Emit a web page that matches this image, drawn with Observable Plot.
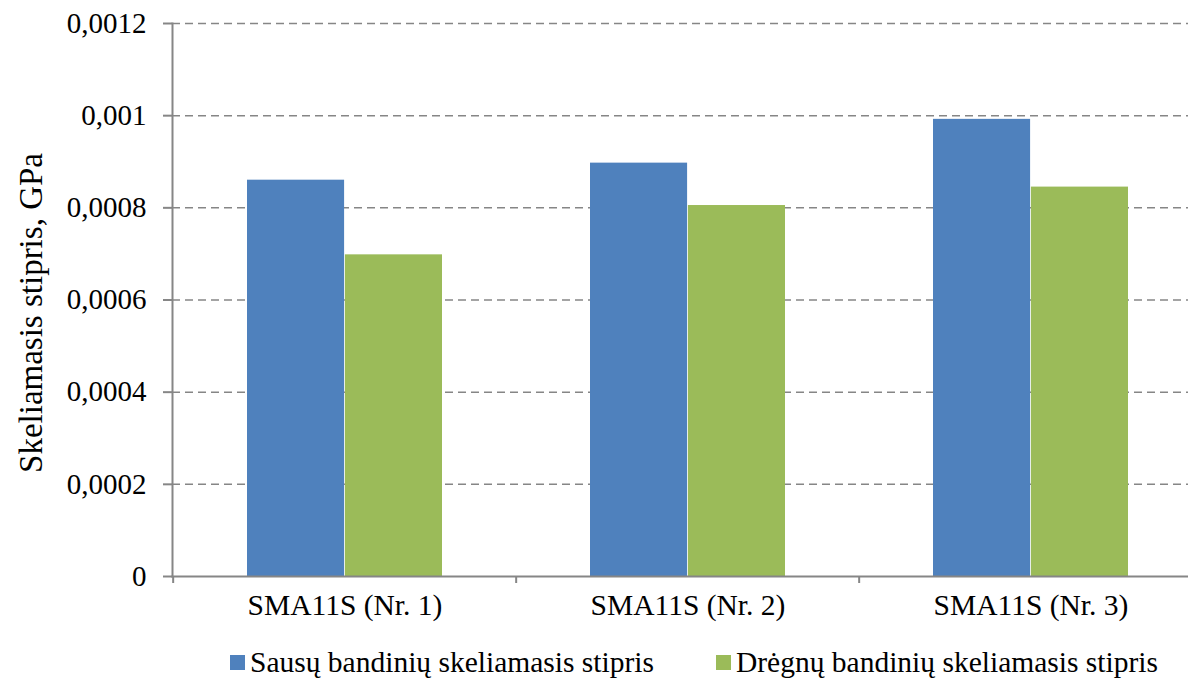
<!DOCTYPE html>
<html>
<head>
<meta charset="utf-8">
<script src="https://cdn.jsdelivr.net/npm/d3@7"></script>
<script src="https://cdn.jsdelivr.net/npm/@observablehq/plot@0.6"></script>
<style>
  html, body { margin: 0; padding: 0; background: white; }
  #wrap { width: 1188px; height: 683px; overflow: hidden; position: relative; font-family: "Liberation Serif", "Times New Roman", serif; }
  #legend { display: flex; align-items: center; gap: 62px; padding-left: 230px; margin-top: 21px; font-size: 29.5px; color: #000; }
  #legend .item { display: flex; align-items: center; gap: 5px; white-space: nowrap; }
  #legend .sw { width: 15px; height: 15px; display: inline-block; }
</style>
</head>
<body>
<div id="wrap"></div>
<script>
const categories = ["SMA11S (Nr. 1)", "SMA11S (Nr. 2)", "SMA11S (Nr. 3)"];
const series = ["Sausų bandinių skeliamasis stipris", "Drėgnų bandinių skeliamasis stipris"];
const dryValues = [0.00086, 0.000897, 0.000992];
const wetValues = [0.000698, 0.000805, 0.000845];
const yTicks = [0, 0.0002, 0.0004, 0.0006, 0.0008, 0.001, 0.0012];
const colors = ["#4F81BD", "#9BBB59"];
const yLabel = "Skeliamasis stipris, GPa";

const width = 1188, height = 625;
const marginLeft = 172, marginRight = -15, marginTop = 23, marginBottom = 49;
const step = (width - marginLeft - marginRight) / categories.length;
const paddingInner = 148 / 344, paddingOuter = 74 / 344;
const bandwidth = step * (1 - paddingInner);

const rows = categories.flatMap((c, i) => [
  {category: c, series: series[0], value: dryValues[i]},
  {category: c, series: series[1], value: wetValues[i]}
]);

const axisColor = "#868686";
const font = "'Liberation Serif', 'Times New Roman', serif";

const chart = Plot.plot({
  width, height, marginLeft, marginRight, marginTop, marginBottom,
  style: {fontFamily: font, fontSize: "29px", color: "#000", overflow: "visible"},
  x: {domain: categories, paddingInner, paddingOuter, axis: null},
  y: {domain: [0, 0.0012], axis: null},
  color: {domain: series, range: colors},
  marks: [
    Plot.ruleY(yTicks.filter(d => d > 0), {y: d => d, stroke: axisColor, strokeWidth: 1.5, strokeDasharray: "8,5"}),
    Plot.barY(rows.filter(d => d.series === series[0]), {x: "category", y: "value", fill: "series", insetRight: bandwidth / 2}),
    Plot.barY(rows.filter(d => d.series === series[1]), {x: "category", y: "value", fill: "series", insetLeft: bandwidth / 2}),
    Plot.frame({anchor: "left", stroke: axisColor, strokeWidth: 2}),
    Plot.frame({anchor: "bottom", stroke: axisColor, strokeWidth: 2}),
    Plot.axisY({ticks: yTicks, tickFormat: d => String(d).replace(".", ","), tickSize: 9, tickPadding: 17, stroke: axisColor, strokeWidth: 2, fontSize: 29, fontFamily: font, label: null}),
    Plot.text([yLabel], {text: d => d, frameAnchor: "left", rotate: -90, dx: -141, dy: 13, lineAnchor: "middle", textAnchor: "middle", fontSize: 33, fontFamily: font, fill: "#000"}),
    Plot.axisX({tickSize: 7, text: null, dx: -step / 2, stroke: axisColor, strokeWidth: 2, label: null}),
    Plot.axisX({tickSize: 0, tickPadding: 18, fontSize: 29.5, fontFamily: font, label: null})
  ]
});

const wrap = document.getElementById("wrap");
wrap.appendChild(chart);

const legend = document.createElement("div");
legend.id = "legend";
series.forEach((s, i) => {
  const item = document.createElement("div");
  item.className = "item";
  const sw = document.createElement("span");
  sw.className = "sw";
  sw.style.background = colors[i];
  const t = document.createElement("span");
  t.textContent = s;
  item.appendChild(sw);
  item.appendChild(t);
  legend.appendChild(item);
});
wrap.appendChild(legend);
</script>
</body>
</html>
